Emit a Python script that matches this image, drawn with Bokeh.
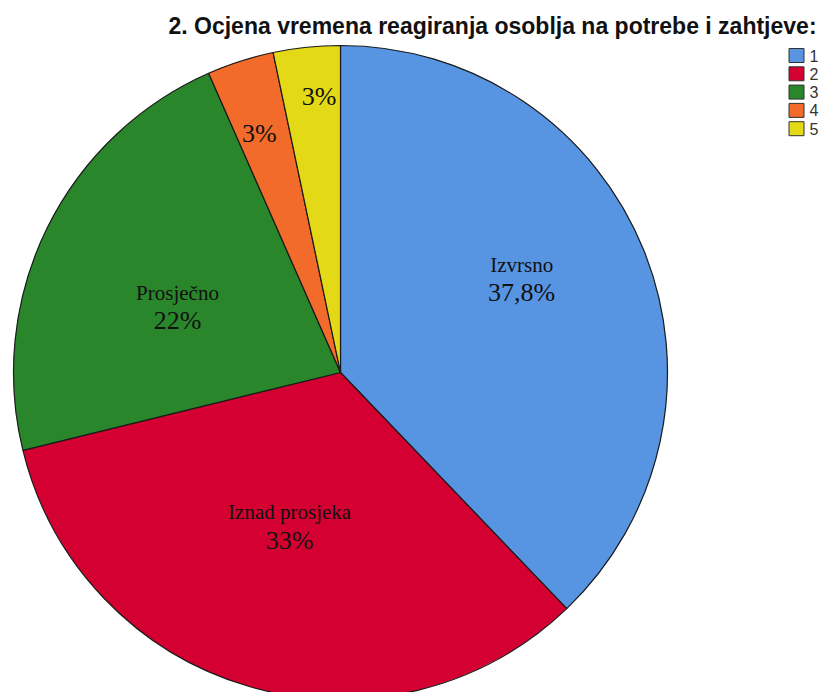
import math
from bokeh.plotting import figure
from bokeh.models import Range1d, ColumnDataSource
from bokeh.core.properties import value
from bokeh.embed import file_html
from bokeh.resources import INLINE

# ---- data ----
title = "2. Ocjena vremena reagiranja osoblja na potrebe i zahtjeve:"
legend_labels = ["1", "2", "3", "4", "5"]
category_names = ["Izvrsno", "Iznad prosjeka", "Prosječno", "", ""]
percents = [37.8, 33.3, 22.2, 3.3, 3.3]
percent_labels = ["37,8%", "33%", "22%", "3%", "3%"]
colors = ["#5795E3", "#D50032", "#29862B", "#F26B2A", "#E4D916"]

# ---- style / layout ----
W, H = 824, 692
WIN_H = 692
cx, cy_win, R = 340, 372, 327
cy = WIN_H - cy_win
label_rfrac = [0.597, 0.557, 0.517, 0.753, 0.826]
label_angle_off = [0.0, 0.0, 10.8, 1.4, -1.4]
label_dy = 7

p = figure(width=W, height=H, output_backend="svg", toolbar_location=None,
           x_range=Range1d(0, W), y_range=Range1d(WIN_H - H, WIN_H),
           min_border=0)
p.axis.visible = False
p.grid.visible = False
p.outline_line_color = None
p.background_fill_color = "white"
p.border_fill_color = "white"

total = sum(percents)
starts, ends, mids = [], [], []
cum = 0.0
for v in percents:
    a0 = 90 - cum / total * 360
    cum += v
    a1 = 90 - cum / total * 360
    starts.append(math.radians(a0))
    ends.append(math.radians(a1))
    mids.append((a0 + a1) / 2)

src = ColumnDataSource(dict(start=starts, end=ends, color=colors))
p.wedge(x=cx, y=cy, radius=R, start_angle="start", end_angle="end",
        direction="clock", fill_color="color", line_color="#1a1a1a",
        line_width=1.2, source=src)

# slice labels
px, py, nx, ny, nm, pl = [], [], [], [], [], []
for i in range(len(percents)):
    a = math.radians(mids[i] + label_angle_off[i])
    r = label_rfrac[i] * R
    x = cx + r * math.cos(a)
    y = cy + r * math.sin(a) + label_dy
    px.append(x); py.append(y); pl.append(percent_labels[i])
    if category_names[i]:
        nx.append(x); ny.append(y + 28); nm.append(category_names[i])

p.text(x=px, y=py, text=pl, text_font=value("Liberation Serif"),
       text_font_size="26px", text_align="center", text_baseline="alphabetic",
       text_color="#111111")
p.text(x=nx, y=ny, text=nm, text_font=value("Liberation Serif"),
       text_font_size="21px", text_align="center", text_baseline="alphabetic",
       text_color="#111111")

# title
p.text(x=[492], y=[WIN_H - 25], text=[title], text_font=value("Liberation Sans"),
       text_font_size="23px", text_font_style="bold", text_align="center",
       text_baseline="middle", text_color="#111111")

# legend
lx = [796] * len(legend_labels)
ly = [WIN_H - (55 + 18.3 * i) for i in range(len(legend_labels))]
p.rect(x=lx, y=ly, width=15, height=14, fill_color=colors, line_color="#333333",
       line_width=1)
p.text(x=[809] * len(legend_labels), y=ly, text=legend_labels,
       text_font=value("Liberation Sans"), text_font_size="16px",
       text_align="left", text_baseline="middle", text_color="#333333")

open("out.html", "w").write(file_html(p, INLINE))
